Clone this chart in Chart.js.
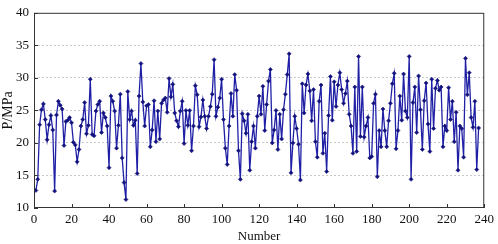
<!DOCTYPE html>
<html>
<head>
<meta charset="utf-8">
<script src="https://cdn.jsdelivr.net/npm/chart.js@4"></script>
<style>
  html, body { margin: 0; padding: 0; background: #fff; }
  #wrap { width: 498px; height: 244px; position: relative; }
</style>
</head>
<body>
<div id="wrap"><canvas id="c"></canvas></div>
<script>
// pressure readings, sample 1..237
const pressure = [
  12.7, 14.4, 22.8, 25.1, 26.0, 23.6, 20.5, 22.8, 24.2, 22.0, 12.6,
  24.3, 26.4, 25.8, 25.2, 19.6, 23.3, 23.5, 23.9, 23.1, 20.1, 19.7, 17.1, 19.0, 22.6, 23.6, 26.2, 21.4, 22.7, 29.8,
  21.3, 21.1, 24.9, 25.9, 26.4, 21.6, 24.6, 23.9, 22.6, 16.2, 27.2, 26.4, 24.9, 19.2, 22.7, 27.5, 17.7, 13.9,
  11.3, 27.9, 23.6, 24.9, 22.7, 23.5, 15.3, 27.2, 32.2,
  26.3, 22.6, 25.7, 25.9, 19.4, 22.0, 26.5, 20.2, 24.9, 20.6, 26.1, 26.6, 26.9, 24.7, 29.9, 27.1, 29.0, 24.6, 23.4, 22.5, 24.9, 26.4, 19.9, 25.0, 22.7, 25.0, 18.8, 22.6, 28.8, 27.4,
  22.5, 24.0, 26.6, 24.1, 22.2, 24.1, 25.6, 27.5, 32.8, 24.1, 25.5, 26.9, 29.8, 23.6, 19.2, 16.7, 22.6, 27.6, 24.1, 30.5, 28.1, 18.8, 14.4, 24.5, 23.4, 21.5, 24.4, 15.8,
  20.2, 22.6, 19.2, 24.1, 27.2, 24.4, 28.7, 21.9, 25.9, 29.5, 31.3, 20.0, 22.0, 25.0, 19.0, 24.4, 20.6, 25.1, 27.5, 30.5, 33.7, 15.4, 20.0, 24.1, 22.2, 19.8, 14.3, 29.1, 24.6, 28.9, 30.6,
  28.0, 23.4, 28.2, 20.2, 17.8, 26.4, 28.9, 18.4, 21.5, 15.6, 24.2, 30.2, 23.5, 29.4, 25.6, 28.9, 30.8, 28.2, 26.1, 27.6, 29.5, 24.4, 22.6, 18.4, 28.6, 18.7, 33.3,
  21.0, 28.6, 20.9, 22.6, 23.9, 17.7, 17.9, 26.1, 27.5, 14.8, 21.9, 19.4, 25.2, 21.9, 19.4, 23.4, 26.1, 29.1, 30.7, 19.1, 21.9, 27.2, 23.5, 30.6, 24.9, 23.9, 33.3, 14.4,
  26.2, 28.6, 21.6, 30.3, 25.1, 19.0, 26.5, 29.2, 22.9, 18.7, 29.8, 22.2, 28.4, 29.6, 28.1, 28.6, 19.4, 22.6, 21.9, 28.5, 23.6, 26.4, 20.2, 24.7, 15.8, 22.6, 22.2, 17.8, 33.0, 27.4, 30.8, 23.9, 22.4, 26.4, 15.9, 22.3
];
const sampleNo = pressure.map((_, i) => i + 1);

const xTicks = [0, 20, 40, 60, 80, 100, 120, 140, 160, 180, 200, 220, 240];
const yTicks = [10, 15, 20, 25, 30, 35, 40];

const LINE = '#2020a6';
const FONT = { family: '"Liberation Serif", "Times New Roman", serif', size: 13 };

// frame + inward tick marks
const framePlugin = {
  id: 'frame',
  afterDraw(chart) {
    const { ctx, chartArea: a, scales } = chart;
    ctx.save();
    ctx.strokeStyle = '#333';
    ctx.lineWidth = 1;
    ctx.strokeRect(a.left + 0.5, a.top + 0.5, a.right - a.left - 1, a.bottom - a.top - 1);
    ctx.beginPath();
    xTicks.forEach(v => {
      const px = Math.round(scales.x.getPixelForValue(v)) + 0.5;
      ctx.moveTo(px, a.bottom);
      ctx.lineTo(px, a.bottom - 4);
    });
    yTicks.forEach(v => {
      const py = Math.round(scales.y.getPixelForValue(v)) + 0.5;
      ctx.moveTo(a.left, py);
      ctx.lineTo(a.left + 4, py);
    });
    ctx.stroke();
    ctx.restore();
  }
};

new Chart(document.getElementById('c'), {
  type: 'line',
  data: {
    datasets: [{
      data: pressure.map((p, i) => ({ x: sampleNo[i], y: p })),
      borderColor: LINE,
      backgroundColor: '#12127e',
      borderWidth: 1.3,
      pointStyle: 'rectRot',
      pointRadius: 2,
      pointBorderWidth: 0.6,
      pointBorderColor: '#12127e',
      tension: 0,
      fill: false,
    }],
  },
  plugins: [framePlugin],
  options: {
    responsive: true,
    maintainAspectRatio: false,
    animation: false,
    layout: { padding: { top: 7, right: 11, left: 0, bottom: 0 } },
    plugins: { legend: { display: false }, tooltip: { enabled: false } },
    scales: {
      x: {
        type: 'linear',
        min: 0,
        max: 240,
        afterBuildTicks: s => { s.ticks = xTicks.map(v => ({ value: v })); },
        afterFit: s => { s.height = 36; },
        grid: { display: false, drawTicks: false },
        border: { display: false },
        ticks: { color: '#111', font: FONT, padding: 4, maxRotation: 0 },
        title: { display: true, text: 'Number', color: '#111', font: FONT, padding: { top: 0, bottom: 0 } },
      },
      y: {
        min: 10,
        max: 40,
        afterBuildTicks: s => { s.ticks = yTicks.map(v => ({ value: v })); },
        afterFit: s => { s.width = 34; },
        grid: {
          drawTicks: false,
          color: c => (c.tick && (c.tick.value === 10 || c.tick.value === 40)) ? 'rgba(0,0,0,0)' : '#c8c8c8',
          lineWidth: 1,
        },
        border: { display: false, dash: [2, 2] },
        ticks: { color: '#111', font: FONT, padding: 5 },
        title: { display: true, text: 'P/MPa', color: '#111', font: { family: FONT.family, size: 14 }, padding: { top: 0, bottom: 2 } },
      },
    },
  },
});
</script>
</body>
</html>
